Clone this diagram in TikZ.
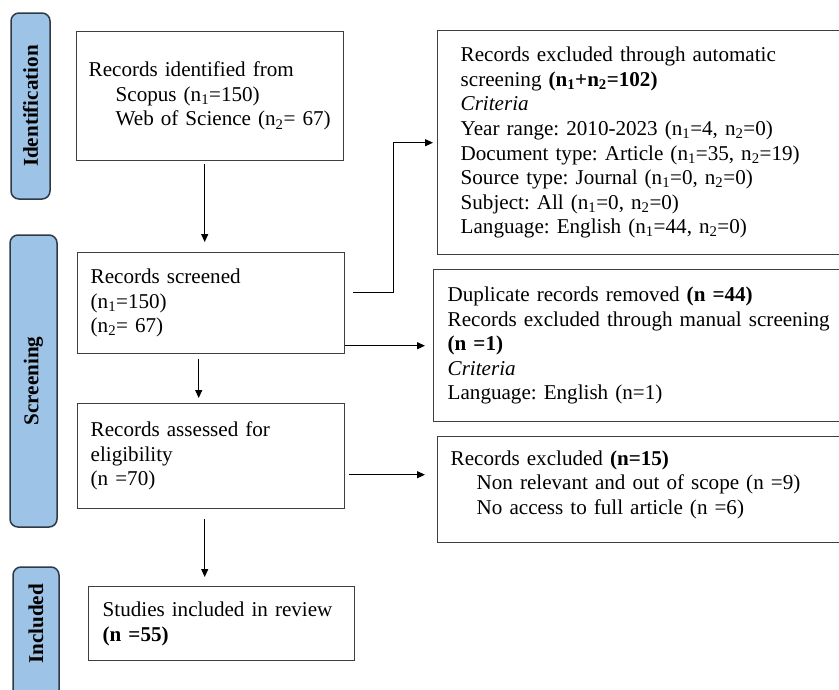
\documentclass[tikz,border=0pt]{standalone}
\usepackage{fontspec}
\setmainfont{Liberation Serif}
\usepackage{xcolor}
\usetikzlibrary{arrows.meta}
\definecolor{tabblue}{HTML}{9DC3E6}
\definecolor{boxline}{HTML}{3F3F3F}
\definecolor{tabline}{HTML}{2E3A46}
\newcommand{\nsub}[1]{n\textsubscript{#1}}
\newcommand{\bodysize}{\fontsize{21.1}{24.6}\selectfont\frenchspacing}

\begin{document}
\begin{tikzpicture}[x=1pt, y=-1pt,
    every node/.style={font=\bodysize},
    stagebox/.style={draw=boxline, line width=1.4pt, anchor=north west, align=left, inner ysep=0pt},
    phasetab/.style={draw=tabline, fill=tabblue, line width=1.5pt, rounded corners=8pt, rotate=90, inner sep=0pt, font=\bodysize\bfseries},
    flow/.style={-{Triangle[length=8pt, width=7pt]}, line width=1.1pt}]

    \useasboundingbox (0,0) rectangle (839,689);
    \fill[white] (0,0) rectangle (839,689);
    \clip (0,0) rectangle (839,689);

    % Phase tabs on the left
    \node[phasetab, minimum width=186pt, minimum height=39pt] (tabI) at (30.5,106) {Identification};
    \node[phasetab, minimum width=292pt, minimum height=47pt] (tabS) at (33.5,381) {Screening};
    \node[phasetab, minimum width=150pt, minimum height=46pt] (tabN) at (36,642) {};
    \node[rotate=90, font=\bodysize\bfseries] (tabNtext) at (36,624) {Included};

    % Main chain of records
    \node[stagebox, minimum width=267pt, minimum height=129pt, inner xsep=12pt, text width=243pt] (ident) at (76,31)
        {Records identified from\\ \hspace*{27pt}Scopus (\nsub{1}=150)\\ \hspace*{27pt}Web~of~Science~(\nsub{2}=~67)};
    \node[stagebox, minimum width=267pt, minimum height=101pt, inner xsep=13pt, text width=241pt] (screened) at (77,252)
        {Records screened\\ (\nsub{1}=150)\\ (\nsub{2}= 67)};
    \node[stagebox, minimum width=267pt, minimum height=105pt, inner xsep=13pt, text width=241pt] (assessed) at (77,403)
        {Records assessed for\\ eligibility\\ (n =70)};
    \node[stagebox, minimum width=266pt, minimum height=74pt, inner xsep=14pt, text width=238pt] (included) at (88,586)
        {Studies included in review\\ \textbf{(n =55)}};

    % Exclusions on the right (cut by the page edge)
    \node[stagebox, minimum width=460pt, minimum height=224pt, inner xsep=23pt, text width=414pt] (autoex) at (437,30)
        {Records excluded through automatic\\
         screening \textbf{(\nsub{1}+\nsub{2}=102)}\\
         \textit{Criteria}\\
         Year range: 2010-2023 (\nsub{1}=4, \nsub{2}=0)\\
         Document type: Article (\nsub{1}=35, \nsub{2}=19)\\
         Source type: Journal (\nsub{1}=0, \nsub{2}=0)\\
         Subject: All (\nsub{1}=0, \nsub{2}=0)\\
         Language: English (\nsub{1}=44, \nsub{2}=0)};
    \node[stagebox, minimum width=460pt, minimum height=152pt, inner xsep=14pt, text width=432pt] (manex) at (433,269)
        {Duplicate records removed \textbf{(n =44)}\\
         Records excluded through manual screening\\
         \textbf{(n =1)}\\
         \textit{Criteria}\\
         Language: English (n=1)};
    \node[stagebox, minimum width=460pt, minimum height=106pt, inner xsep=13pt, text width=434pt, text depth=64pt] (excl) at (437,436)
        {Records excluded \textbf{(n=15)}\\
         \hspace*{26pt}Non relevant and out of scope (n =9)\\
         \hspace*{26pt}No access to full article (n =6)};
    \coordinate (exclin) at ([yshift=15pt]excl.west);

    % Arrows down the chain
    \draw[flow, shorten <=3pt, shorten >=10pt] ([xshift=-5.5pt]ident.south) -- ([xshift=-5.5pt]ident.south |- screened.north);
    \draw[flow, shorten <=5pt, shorten >=5pt] ([xshift=-12.5pt]screened.south) -- ([xshift=-12.5pt]screened.south |- assessed.north);
    \draw[flow, shorten <=10pt, shorten >=9pt] ([xshift=-6.5pt]assessed.south) -- ([xshift=-6.5pt]assessed.south |- included.north);

    % Arrows to the exclusions
    \draw[flow, shorten <=8pt, shorten >=4pt] ([yshift=10.5pt]screened.east) -- ++(48,0) |- (autoex.west);
    \draw[flow, shorten >=8pt] (screened.east |- manex.west) -- (manex.west);
    \draw[flow, shorten <=4pt, shorten >=12pt] (assessed.east |- exclin) -- (exclin);

\end{tikzpicture}
\end{document}
